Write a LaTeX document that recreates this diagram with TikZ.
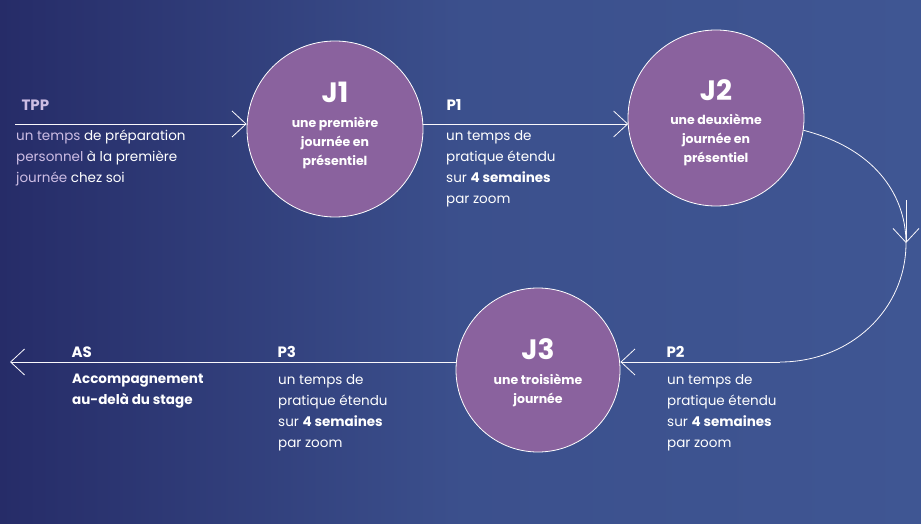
\documentclass[tikz,border=0pt]{standalone}
\usepackage{fontspec}
\setmainfont{Poppins}
\usetikzlibrary{arrows.meta,calc}
\definecolor{bgL}{HTML}{262C68}
\definecolor{bgR}{HTML}{3F5693}
\definecolor{circ}{HTML}{8A629E}
\definecolor{lav}{HTML}{CDBDE4}
\begin{document}
\begin{tikzpicture}[x=1pt,y=-1pt,
  jc/.style={circle,fill=circ,draw=white,line width=0.8pt,minimum size=176pt,inner sep=0pt},
  ln/.style={draw=white!90!lav,line width=0.8pt},
  tip/.style={-{Straight Barb[length=14pt,width=26pt,line width=0.8pt]}},
  ttl/.style={anchor=west,font=\fontsize{15}{17}\selectfont\bfseries,text=white},
  body/.style={anchor=north west,align=left,font=\fontsize{13.5}{21}\selectfont,text=white,inner sep=0pt},
  jt/.style={font=\fontsize{28}{30}\selectfont\bfseries,text=white},
  js/.style={align=center,font=\fontsize{12.5}{19}\selectfont\bfseries,text=white}]
\shade[left color=bgL,right color=bgR,middle color=bgR!85!bgL] (0,0) rectangle (921,524);
\path[use as bounding box] (0,0) rectangle (921,524);
\node[jc] (j1) at (335,129) {};
\node[jc] (j2) at (716,118) {};
\node[jc,minimum size=164pt] (j3) at (538,370) {};
\node[jt] (j1t) at (335,92) {J1};
\node[js] (j1s) at (335,143) {une première\\journée en\\présentiel};
\node[jt] (j2t) at (716,90) {J2};
\node[js] (j2s) at (716,140) {une deuxième\\journée en\\présentiel};
\node[jt] (j3t) at (538,349) {J3};
\node[js] (j3s) at (538,390) {une troisième\\journée};
\coordinate (s0) at (15,124);
\coordinate (ae) at (10,362);
\coordinate (cb) at (780,362);
\draw[ln,tip] (s0) -- (j1.west |- s0);
\draw[ln,tip] (j1.east |- s0) -- ($(j2.center)+(-87.8,6)$);
\draw[ln] (j2.-8) .. controls (880,150) and (906,200) .. (906,243);
\draw[ln,tip] (906,200) .. controls (906,215) and (906,230) .. (906,243);
\draw[ln] (906,243) .. controls (906,310) and (850,362) .. (cb);
\draw[ln,tip] (cb) -- (j3.east |- cb);
\draw[ln,tip] (j3.west |- cb) -- (ae);
\node[ttl,text=lav] (tpp) at (18,105) {TPP};
\node[body,text=lav] (tppb) at (16,130) {un temps {\color{white}de préparation}\\personnel {\color{white}à la première}\\journée {\color{white}chez soi}};
\node[ttl] (p1) at (443,105) {P1};
\node[body] (p1b) at (446,130) {un temps de\\pratique étendu\\sur \textbf{4 semaines}\\par zoom};
\node[ttl] (p2) at (663,352) {P2};
\node[body] (p2b) at (667,374) {un temps de\\pratique étendu\\sur \textbf{4 semaines}\\par zoom};
\node[ttl] (p3) at (274,352) {P3};
\node[body] (p3b) at (278,374) {un temps de\\pratique étendu\\sur \textbf{4 semaines}\\par zoom};
\node[ttl] (as) at (68,352) {AS};
\node[body,font=\fontsize{13.5}{21}\selectfont\bfseries] (asb) at (72,374) {Accompagnement\\au-delà du stage};
\end{tikzpicture}
\end{document}
